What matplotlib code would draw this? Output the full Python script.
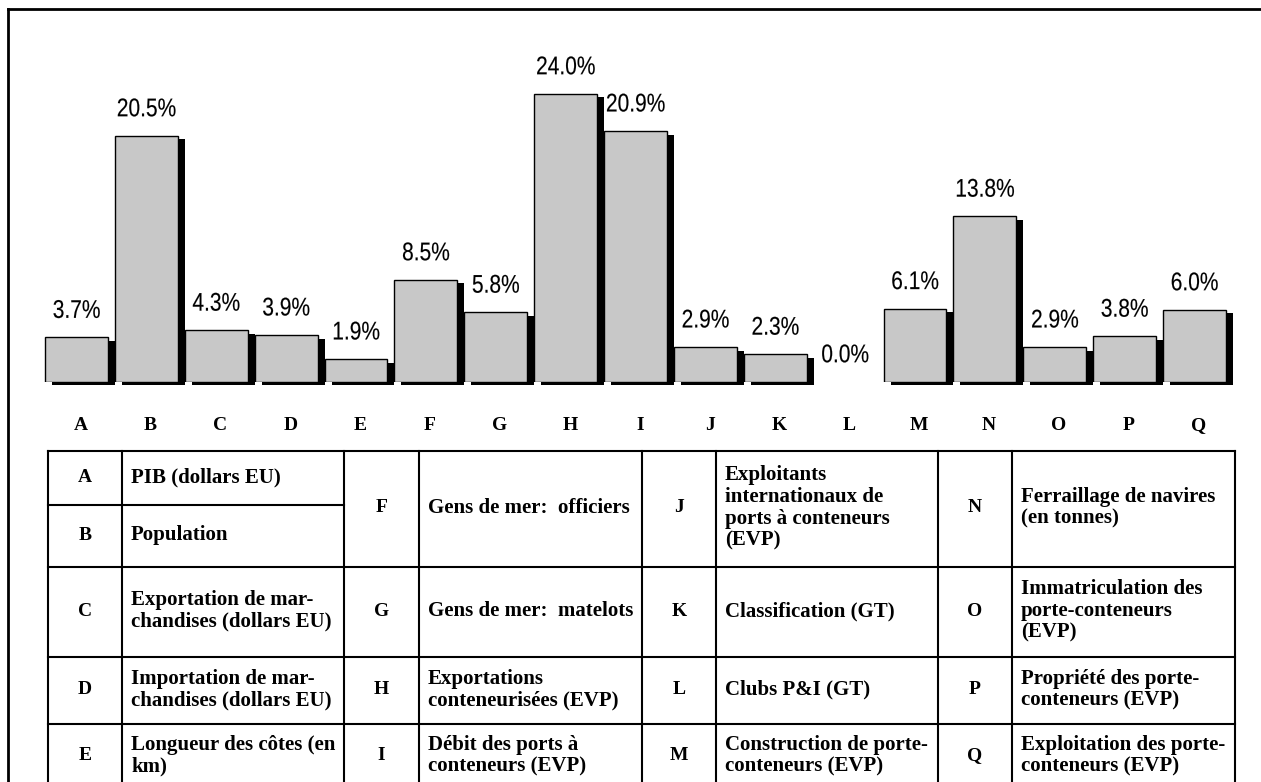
import numpy as np
import matplotlib.pyplot as plt
from matplotlib.lines import Line2D
from matplotlib import patheffects
from matplotlib.transforms import Affine2D

# shares by indicator, in percent
letters = list("ABCDEFGHIJKLMNOPQ")
values = [3.7, 20.5, 4.3, 3.9, 1.9, 8.5, 5.8, 24.0, 20.9, 2.9, 2.3, 0.0,
          6.1, 13.8, 2.9, 3.8, 6.0]

descriptions = [
    "PIB (dollars EU)",
    "Population",
    "Exportation de mar-\nchandises (dollars EU)",
    "Importation de mar-\nchandises (dollars EU)",
    "Longueur des côtes (en\nkm)",
    "Gens de mer:  officiers",
    "Gens de mer:  matelots",
    "Exportations\nconteneurisées (EVP)",
    "Débit des ports à\nconteneurs (EVP)",
    "Exploitants\ninternationaux de\nports à conteneurs\n(EVP)",
    "Classification (GT)",
    "Clubs P&I (GT)",
    "Construction de porte-\nconteneurs (EVP)",
    "Ferraillage de navires\n(en tonnes)",
    "Immatriculation des\nporte-conteneurs\n(EVP)",
    "Propriété des porte-\nconteneurs (EVP)",
    "Exploitation des porte-\nconteneurs (EVP)",
]


class Narrow(patheffects.AbstractPathEffect):
    """Squeeze glyphs horizontally about the text centre (narrow sans look)."""

    def __init__(self, sx, lw=0.0):
        super().__init__()
        self.sx = sx
        self.lw = lw

    def draw_path(self, renderer, gc, tpath, affine, rgbFace=None):
        ext = tpath.get_extents()
        cx = (ext.x0 + ext.x1) / 2
        t = Affine2D().translate(-cx, 0).scale(self.sx, 1).translate(cx, 0) + affine
        gc0 = renderer.new_gc()
        gc0.copy_properties(gc)
        gc0.set_linewidth(self.lw)
        if rgbFace is not None:
            gc0.set_foreground(rgbFace)
        renderer.draw_path(gc0, tpath, t, rgbFace)
        gc0.restore()


W, H = 1261, 782
fig = plt.figure(figsize=(W / 100, H / 100), dpi=100)


def fx(px):
    return px / W


def fy(py):
    return 1 - py / H


sans = ['Liberation Sans', 'DejaVu Sans']
serif = ['Liberation Serif', 'DejaVu Serif']

# bar chart: one category per 69.875 px, baseline at y=381.7 px, 12 px per %
step = 69.875
x_first = 76.5
base = 381.7
ppp = 12.0
ymax = 30
ax = fig.add_axes([fx(x_first - step / 2), fy(base), 17 * step / W, ymax * ppp / H])
ax.set_xlim(-0.5, 16.5)
ax.set_ylim(0, ymax)
ax.axis('off')

x = np.arange(len(values))
vals = np.array(values)
dx = 7 / step
dy = 3.7 / ppp

# drop shadows first, then the grey bars on top
ax.bar(x + dx, vals, width=0.9, bottom=-dy, color='black', linewidth=0,
       clip_on=False, zorder=1)
ax.bar(x, vals, width=0.9, color='#c8c8c8', edgecolor='black',
       linewidth=[1.0 if v > 0 else 0 for v in vals], zorder=2)

squeeze = [Narrow(0.82, lw=0.1)]
for i, v in enumerate(vals):
    ax.annotate(f"{v:.1f}%", (i, v), xytext=(0, 14), textcoords='offset points',
                ha='center', va='baseline', fontsize=18.4, family=sans,
                path_effects=squeeze)
    ax.text(i + 0.06, -(430 - base) / ppp, letters[i], ha='center', va='baseline',
            fontsize=14, fontweight='bold', family=serif, clip_on=False)

# outer frame (left and top only)
lw_frame = 2.0
fig.add_artist(Line2D([fx(8), fx(8)], [fy(8.7), fy(800)], lw=lw_frame, color='black'))
fig.add_artist(Line2D([fx(8), fx(1270)], [fy(8.7), fy(8.7)], lw=lw_frame, color='black'))

# legend table
col_edges = [48, 122, 344, 419, 642, 716, 938, 1012, 1235]
row_edges = [451, 567, 657, 724, 790]
split_y = 505
lw_tab = 1.5

for yy in row_edges:
    fig.add_artist(Line2D([fx(col_edges[0]), fx(col_edges[-1])], [fy(yy), fy(yy)],
                          lw=lw_tab, color='black'))
fig.add_artist(Line2D([fx(col_edges[0]), fx(col_edges[2])], [fy(split_y), fy(split_y)],
                      lw=lw_tab, color='black'))
for xx in col_edges:
    fig.add_artist(Line2D([fx(xx), fx(xx)], [fy(row_edges[0]), fy(row_edges[-1])],
                          lw=lw_tab, color='black'))

groups = [range(0, 5), range(5, 9), range(9, 13), range(13, 17)]
for g, idx in enumerate(groups):
    xl, xm = col_edges[2 * g], col_edges[2 * g + 1]
    if len(idx) == 5:
        spans = [(row_edges[0], split_y), (split_y, row_edges[1])] + \
                list(zip(row_edges[1:-1], row_edges[2:]))
    else:
        spans = list(zip(row_edges[:-1], row_edges[1:]))
    for k, (y0, y1) in zip(idx, spans):
        yc = (y0 + y1) / 2 - 1
        fig.text(fx((xl + xm) / 2), fy(yc), letters[k], ha='center', va='center',
                 fontsize=14, fontweight='bold', family=serif)
        fig.text(fx(xm + 9), fy(yc), descriptions[k], ha='left', va='center',
                 fontsize=15, fontweight='bold', family=serif, linespacing=1.12)

fig.savefig('out.png', dpi=100)
